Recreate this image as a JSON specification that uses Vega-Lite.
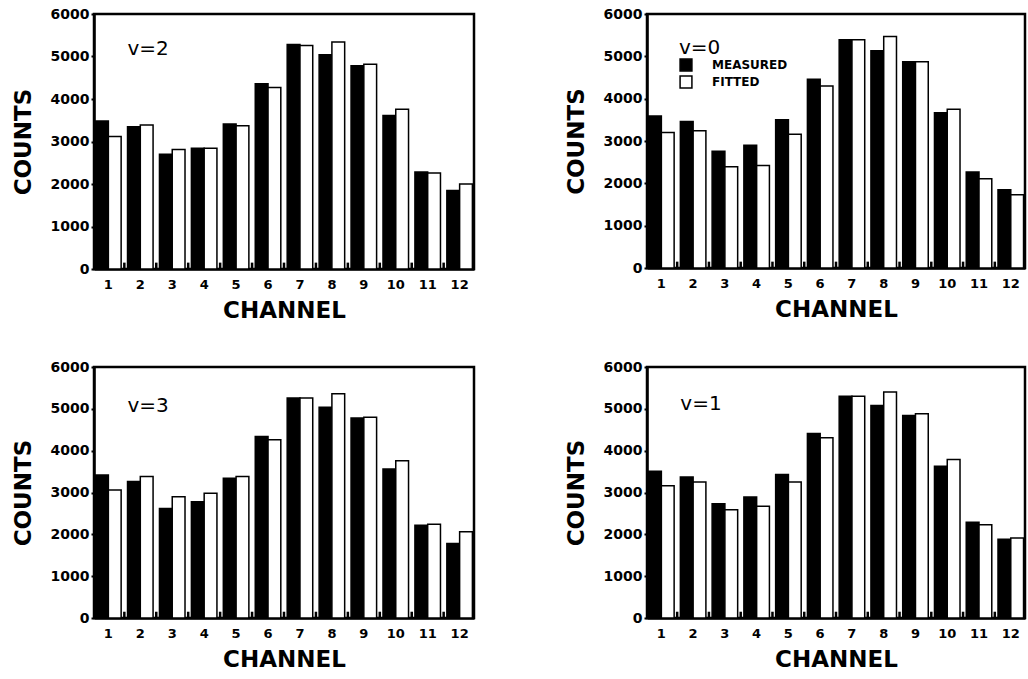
{
  "$schema": "https://vega.github.io/schema/vega-lite/v6.json",
  "background": "white",
  "padding": {"left": 10, "top": 5, "right": 4, "bottom": 5},
  "datasets": {
    "v2": [
      {"channel": 1, "series": "MEASURED", "counts": 3480}, {"channel": 1, "series": "FITTED", "counts": 3120},
      {"channel": 2, "series": "MEASURED", "counts": 3350}, {"channel": 2, "series": "FITTED", "counts": 3390},
      {"channel": 3, "series": "MEASURED", "counts": 2700}, {"channel": 3, "series": "FITTED", "counts": 2810},
      {"channel": 4, "series": "MEASURED", "counts": 2840}, {"channel": 4, "series": "FITTED", "counts": 2840},
      {"channel": 5, "series": "MEASURED", "counts": 3410}, {"channel": 5, "series": "FITTED", "counts": 3370},
      {"channel": 6, "series": "MEASURED", "counts": 4360}, {"channel": 6, "series": "FITTED", "counts": 4270},
      {"channel": 7, "series": "MEASURED", "counts": 5280}, {"channel": 7, "series": "FITTED", "counts": 5260},
      {"channel": 8, "series": "MEASURED", "counts": 5040}, {"channel": 8, "series": "FITTED", "counts": 5340},
      {"channel": 9, "series": "MEASURED", "counts": 4780}, {"channel": 9, "series": "FITTED", "counts": 4820},
      {"channel": 10, "series": "MEASURED", "counts": 3610}, {"channel": 10, "series": "FITTED", "counts": 3760},
      {"channel": 11, "series": "MEASURED", "counts": 2280}, {"channel": 11, "series": "FITTED", "counts": 2260},
      {"channel": 12, "series": "MEASURED", "counts": 1850}, {"channel": 12, "series": "FITTED", "counts": 2000}
    ],
    "v0": [
      {"channel": 1, "series": "MEASURED", "counts": 3590}, {"channel": 1, "series": "FITTED", "counts": 3200},
      {"channel": 2, "series": "MEASURED", "counts": 3460}, {"channel": 2, "series": "FITTED", "counts": 3240},
      {"channel": 3, "series": "MEASURED", "counts": 2760}, {"channel": 3, "series": "FITTED", "counts": 2390},
      {"channel": 4, "series": "MEASURED", "counts": 2900}, {"channel": 4, "series": "FITTED", "counts": 2420},
      {"channel": 5, "series": "MEASURED", "counts": 3500}, {"channel": 5, "series": "FITTED", "counts": 3160},
      {"channel": 6, "series": "MEASURED", "counts": 4460}, {"channel": 6, "series": "FITTED", "counts": 4300},
      {"channel": 7, "series": "MEASURED", "counts": 5390}, {"channel": 7, "series": "FITTED", "counts": 5390},
      {"channel": 8, "series": "MEASURED", "counts": 5130}, {"channel": 8, "series": "FITTED", "counts": 5470},
      {"channel": 9, "series": "MEASURED", "counts": 4870}, {"channel": 9, "series": "FITTED", "counts": 4870},
      {"channel": 10, "series": "MEASURED", "counts": 3670}, {"channel": 10, "series": "FITTED", "counts": 3750},
      {"channel": 11, "series": "MEASURED", "counts": 2270}, {"channel": 11, "series": "FITTED", "counts": 2110},
      {"channel": 12, "series": "MEASURED", "counts": 1850}, {"channel": 12, "series": "FITTED", "counts": 1730}
    ],
    "v3": [
      {"channel": 1, "series": "MEASURED", "counts": 3420}, {"channel": 1, "series": "FITTED", "counts": 3060},
      {"channel": 2, "series": "MEASURED", "counts": 3260}, {"channel": 2, "series": "FITTED", "counts": 3380},
      {"channel": 3, "series": "MEASURED", "counts": 2620}, {"channel": 3, "series": "FITTED", "counts": 2900},
      {"channel": 4, "series": "MEASURED", "counts": 2780}, {"channel": 4, "series": "FITTED", "counts": 2980},
      {"channel": 5, "series": "MEASURED", "counts": 3340}, {"channel": 5, "series": "FITTED", "counts": 3380},
      {"channel": 6, "series": "MEASURED", "counts": 4340}, {"channel": 6, "series": "FITTED", "counts": 4260},
      {"channel": 7, "series": "MEASURED", "counts": 5260}, {"channel": 7, "series": "FITTED", "counts": 5260},
      {"channel": 8, "series": "MEASURED", "counts": 5040}, {"channel": 8, "series": "FITTED", "counts": 5360},
      {"channel": 9, "series": "MEASURED", "counts": 4780}, {"channel": 9, "series": "FITTED", "counts": 4800},
      {"channel": 10, "series": "MEASURED", "counts": 3560}, {"channel": 10, "series": "FITTED", "counts": 3760},
      {"channel": 11, "series": "MEASURED", "counts": 2220}, {"channel": 11, "series": "FITTED", "counts": 2240},
      {"channel": 12, "series": "MEASURED", "counts": 1780}, {"channel": 12, "series": "FITTED", "counts": 2060}
    ],
    "v1": [
      {"channel": 1, "series": "MEASURED", "counts": 3510}, {"channel": 1, "series": "FITTED", "counts": 3160},
      {"channel": 2, "series": "MEASURED", "counts": 3370}, {"channel": 2, "series": "FITTED", "counts": 3250},
      {"channel": 3, "series": "MEASURED", "counts": 2730}, {"channel": 3, "series": "FITTED", "counts": 2590},
      {"channel": 4, "series": "MEASURED", "counts": 2890}, {"channel": 4, "series": "FITTED", "counts": 2670},
      {"channel": 5, "series": "MEASURED", "counts": 3430}, {"channel": 5, "series": "FITTED", "counts": 3250},
      {"channel": 6, "series": "MEASURED", "counts": 4410}, {"channel": 6, "series": "FITTED", "counts": 4310},
      {"channel": 7, "series": "MEASURED", "counts": 5300}, {"channel": 7, "series": "FITTED", "counts": 5300},
      {"channel": 8, "series": "MEASURED", "counts": 5080}, {"channel": 8, "series": "FITTED", "counts": 5400},
      {"channel": 9, "series": "MEASURED", "counts": 4840}, {"channel": 9, "series": "FITTED", "counts": 4880},
      {"channel": 10, "series": "MEASURED", "counts": 3630}, {"channel": 10, "series": "FITTED", "counts": 3790},
      {"channel": 11, "series": "MEASURED", "counts": 2290}, {"channel": 11, "series": "FITTED", "counts": 2230},
      {"channel": 12, "series": "MEASURED", "counts": 1880}, {"channel": 12, "series": "FITTED", "counts": 1910}
    ]
  },
  "columns": 2,
  "spacing": {"row": 34, "column": 87},
  "resolve": {"scale": {"color": "independent"}, "legend": {"color": "independent"}},
  "concat": [
    {
      "width": 380, "height": 255,
      "data": {"name": "v2"},
      "layer": [
        {
          "mark": {"type": "bar", "stroke": "black", "strokeWidth": 1.5},
          "encoding": {
            "x": {"field": "channel", "type": "ordinal", "title": "CHANNEL", "scale": {"paddingInner": 0.2, "paddingOuter": 0.05}},
            "xOffset": {"field": "series", "type": "nominal", "sort": ["MEASURED", "FITTED"], "scale": {"paddingInner": 0}},
            "y": {"field": "counts", "type": "quantitative", "title": "COUNTS", "scale": {"domain": [0, 6000], "nice": false}, "axis": {"values": [0, 1000, 2000, 3000, 4000, 5000, 6000], "format": "d"}},
            "color": {"field": "series", "type": "nominal", "scale": {"domain": ["MEASURED", "FITTED"], "range": ["black", "white"]}, "legend": null}
          }
        },
        {
          "transform": [{"filter": "datum.channel < 12 && datum.series == 'MEASURED'"}],
          "mark": {"type": "rule", "color": "black", "strokeWidth": 2.5},
          "encoding": {
            "x": {"field": "channel", "type": "ordinal", "bandPosition": 1.125},
            "y": {"datum": 0, "type": "quantitative"},
            "y2": {"datum": 150}
          }
        },
        {
          "data": {"values": [{"label": "v=2"}]},
          "mark": {"type": "text", "align": "left", "baseline": "middle", "font": "DejaVu Sans", "fontSize": 20, "color": "black"},
          "encoding": {
            "x": {"datum": 2, "type": "ordinal", "bandPosition": 0},
            "y": {"datum": 5170, "type": "quantitative"},
            "text": {"field": "label"}
          }
        }
      ]
    },
    {
      "width": 378, "height": 254,
      "data": {"name": "v0"},
      "layer": [
        {
          "mark": {"type": "bar", "stroke": "black", "strokeWidth": 1.5},
          "encoding": {
            "x": {"field": "channel", "type": "ordinal", "title": "CHANNEL", "scale": {"paddingInner": 0.2, "paddingOuter": 0.05}},
            "xOffset": {"field": "series", "type": "nominal", "sort": ["MEASURED", "FITTED"], "scale": {"paddingInner": 0}},
            "y": {"field": "counts", "type": "quantitative", "title": "COUNTS", "scale": {"domain": [0, 6000], "nice": false}, "axis": {"values": [0, 1000, 2000, 3000, 4000, 5000, 6000], "format": "d"}},
            "color": {
              "field": "series", "type": "nominal", "sort": ["MEASURED", "FITTED"],
              "scale": {"domain": ["MEASURED", "FITTED"], "range": ["black", "white"]},
              "legend": {
                "title": "v=0", "orient": "none", "legendX": 32, "legendY": 24,
                "titleFont": "DejaVu Sans", "titleFontSize": 20, "titleFontWeight": "normal", "titleColor": "black", "titlePadding": 0,
                "labelFont": "DejaVu Sans", "labelFontWeight": "bold", "labelFontSize": 12, "labelColor": "black", "labelOffset": 19,
                "symbolType": "square", "symbolSize": 140, "symbolStrokeColor": "black", "symbolStrokeWidth": 1.5, "symbolOpacity": 1,
                "rowPadding": -1
              }
            }
          }
        },
        {
          "transform": [{"filter": "datum.channel < 12 && datum.series == 'MEASURED'"}],
          "mark": {"type": "rule", "color": "black", "strokeWidth": 2.5},
          "encoding": {
            "x": {"field": "channel", "type": "ordinal", "bandPosition": 1.125},
            "y": {"datum": 0, "type": "quantitative"},
            "y2": {"datum": 150}
          }
        }
      ]
    },
    {
      "width": 380, "height": 251,
      "data": {"name": "v3"},
      "layer": [
        {
          "mark": {"type": "bar", "stroke": "black", "strokeWidth": 1.5},
          "encoding": {
            "x": {"field": "channel", "type": "ordinal", "title": "CHANNEL", "scale": {"paddingInner": 0.2, "paddingOuter": 0.05}},
            "xOffset": {"field": "series", "type": "nominal", "sort": ["MEASURED", "FITTED"], "scale": {"paddingInner": 0}},
            "y": {"field": "counts", "type": "quantitative", "title": "COUNTS", "scale": {"domain": [0, 6000], "nice": false}, "axis": {"values": [0, 1000, 2000, 3000, 4000, 5000, 6000], "format": "d"}},
            "color": {"field": "series", "type": "nominal", "scale": {"domain": ["MEASURED", "FITTED"], "range": ["black", "white"]}, "legend": null}
          }
        },
        {
          "transform": [{"filter": "datum.channel < 12 && datum.series == 'MEASURED'"}],
          "mark": {"type": "rule", "color": "black", "strokeWidth": 2.5},
          "encoding": {
            "x": {"field": "channel", "type": "ordinal", "bandPosition": 1.125},
            "y": {"datum": 0, "type": "quantitative"},
            "y2": {"datum": 150}
          }
        },
        {
          "data": {"values": [{"label": "v=3"}]},
          "mark": {"type": "text", "align": "left", "baseline": "middle", "font": "DejaVu Sans", "fontSize": 20, "color": "black"},
          "encoding": {
            "x": {"datum": 2, "type": "ordinal", "bandPosition": 0},
            "y": {"datum": 5060, "type": "quantitative"},
            "text": {"field": "label"}
          }
        }
      ]
    },
    {
      "width": 378, "height": 251,
      "data": {"name": "v1"},
      "layer": [
        {
          "mark": {"type": "bar", "stroke": "black", "strokeWidth": 1.5},
          "encoding": {
            "x": {"field": "channel", "type": "ordinal", "title": "CHANNEL", "scale": {"paddingInner": 0.2, "paddingOuter": 0.05}},
            "xOffset": {"field": "series", "type": "nominal", "sort": ["MEASURED", "FITTED"], "scale": {"paddingInner": 0}},
            "y": {"field": "counts", "type": "quantitative", "title": "COUNTS", "scale": {"domain": [0, 6000], "nice": false}, "axis": {"values": [0, 1000, 2000, 3000, 4000, 5000, 6000], "format": "d"}},
            "color": {"field": "series", "type": "nominal", "scale": {"domain": ["MEASURED", "FITTED"], "range": ["black", "white"]}, "legend": null}
          }
        },
        {
          "transform": [{"filter": "datum.channel < 12 && datum.series == 'MEASURED'"}],
          "mark": {"type": "rule", "color": "black", "strokeWidth": 2.5},
          "encoding": {
            "x": {"field": "channel", "type": "ordinal", "bandPosition": 1.125},
            "y": {"datum": 0, "type": "quantitative"},
            "y2": {"datum": 150}
          }
        },
        {
          "data": {"values": [{"label": "v=1"}]},
          "mark": {"type": "text", "align": "left", "baseline": "middle", "font": "DejaVu Sans", "fontSize": 20, "color": "black"},
          "encoding": {
            "x": {"datum": 2, "type": "ordinal", "bandPosition": 0},
            "y": {"datum": 5120, "type": "quantitative"},
            "text": {"field": "label"}
          }
        }
      ]
    }
  ],
  "config": {
    "view": {"stroke": "black", "strokeWidth": 2.5},
    "bar": {"fillOpacity": 1},
    "axis": {
      "grid": false,
      "labelFont": "DejaVu Sans", "labelFontWeight": "bold", "labelFontSize": 14, "labelColor": "black",
      "titleFont": "DejaVu Sans", "titleFontWeight": "bold", "titleFontSize": 23, "titleColor": "black",
      "domainColor": "black", "domainWidth": 2.5, "tickColor": "black", "tickWidth": 2
    },
    "axisX": {"ticks": false, "labelPadding": 9, "labelAngle": 0, "titlePadding": 8, "labelFontSize": 13},
    "axisY": {"tickSize": 3, "labelPadding": 2, "titlePadding": 15}
  }
}
